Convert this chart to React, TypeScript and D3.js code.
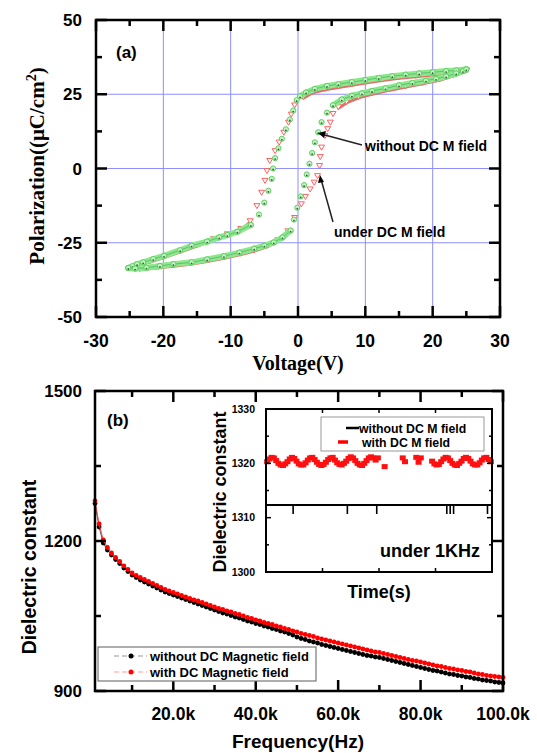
import React from 'react';
import * as d3 from 'd3';

const W = 537;
const H = 753;

// ---------- Panel (a) data ----------
const voltTicks = [-30, -20, -10, 0, 10, 20, 30];
const voltMinor = [-25, -15, -5, 5, 15, 25];
const polTicks = [-50, -25, 0, 25, 50];
const polMinor = [-37.5, -12.5, 12.5, 37.5];
const gridV = [-20, -10, 0, 10, 20];
const gridP = [-25, 0, 25];

const greenUpper: [number, number][] = [
  [25.0, 33.4], [23.5, 33.0], [22, 32.8], [20, 32.4], [18, 32.0], [16, 31.6], [14, 31.1], [12, 30.5],
  [10, 29.8], [8, 29.1], [6, 28.4], [4.3, 27.8], [2.5, 26.8], [1.2, 25.6], [0.3, 24.3], [-0.2, 23.0],
  [-0.7, 19.5], [-1.2, 16.5], [-1.8, 13.2], [-2.4, 10.0], [-2.9, 6.8], [-3.4, 3.5], [-3.7, 0.0],
  [-3.9, -3.5], [-4.4, -7.5], [-5.0, -11.5], [-5.8, -15.5], [-7.0, -19.0], [-9.0, -21.3],
  [-10.5, -22.4], [-11.7, -23.2], [-13.5, -24.6], [-15.8, -26.0], [-17.5, -27.5], [-19.9, -29.4],
  [-21.5, -30.5], [-23.0, -31.6], [-23.9, -32.2], [-24.6, -32.9], [-25.2, -33.5],
];
const greenLower: [number, number][] = [
  [-25.2, -33.5], [-24.2, -33.7], [-22.5, -33.4], [-20.5, -32.8], [-18.5, -32.2], [-15.8, -31.6],
  [-13.5, -30.6], [-11, -29.5], [-8.7, -28.3], [-6.5, -27.0], [-5, -26.0], [-3.6, -24.9], [-2.3, -23.2],
  [-1.1, -20.9], [-0.6, -17.2], [-0.1, -13.2], [0.4, -9.4], [0.9, -5.6], [1.3, -2.0], [1.7, 1.6],
  [2.1, 5.2], [2.5, 8.8], [3.0, 12.2], [3.5, 15.6], [4.3, 18.8], [5.2, 21.3], [6.5, 23.2], [8.0, 24.5],
  [9.5, 25.3], [11, 26.1], [13, 27.0], [15, 28.0], [17, 28.8], [19, 29.6], [20.5, 30.2], [22, 31.0],
  [23.5, 32.0], [24.5, 32.8], [25.0, 33.4],
];
const redUpper: [number, number][] = [
  [25.0, 33.2], [23.0, 32.6], [20, 32.0], [17.5, 31.4], [15, 30.9], [12.5, 30.1], [10, 29.3], [8, 28.5],
  [6, 27.8], [4, 27.0], [2.2, 26.0], [0.8, 24.2], [-0.5, 21.4], [-1.0, 18.3], [-1.4, 15.6], [-2.1, 12.2],
  [-2.8, 8.9], [-3.4, 6.0], [-4.2, 2.7], [-4.6, -0.7], [-4.9, -4.0], [-5.4, -8.0], [-6.1, -12.5],
  [-7.1, -17.6], [-8.5, -20.2], [-10.5, -22.0], [-12.5, -23.6], [-15, -25.6], [-17.5, -27.6],
  [-20, -29.6], [-22, -31.0], [-23.8, -32.3], [-25.0, -33.4],
];
const redLower: [number, number][] = [
  [-25.0, -33.4], [-23.5, -33.6], [-21, -33.0], [-18.5, -32.4], [-16, -31.7], [-13.5, -30.8],
  [-11, -29.7], [-8.5, -28.5], [-6.5, -27.3], [-4.5, -25.8], [-3, -24.0], [-1.5, -21.0], [-0.5, -16.5],
  [0.5, -11.9], [1.1, -9.4], [1.8, -6.9], [2.4, -4.6], [2.9, -2.4], [3.2, 1.0], [3.3, 4.0], [3.5, 7.2],
  [4.0, 11.1], [4.4, 13.4], [4.8, 15.6], [5.2, 18.5], [6.0, 20.8], [7.2, 22.6], [9, 24.3], [11, 25.5],
  [13.5, 26.8], [16, 27.9], [18.5, 29.0], [21, 30.2], [23, 31.6], [25.0, 33.2],
];

// ---------- Panel (b) data ----------
const freqK = [
  1, 2, 3, 4, 5, 6, 7, 8, 9, 10, 11, 12, 13, 14, 15, 16, 17, 18, 19, 20,
  21, 22, 23, 24, 25, 26, 27, 28, 29, 30, 31, 32, 33, 34, 35, 36, 37, 38, 39, 40,
  41, 42, 43, 44, 45, 46, 47, 48, 49, 50, 51, 52, 53, 54, 55, 56, 57, 58, 59, 60,
  61, 62, 63, 64, 65, 66, 67, 68, 69, 70, 71, 72, 73, 74, 75, 76, 77, 78, 79, 80,
  81, 82, 83, 84, 85, 86, 87, 88, 89, 90, 91, 92, 93, 94, 95, 96, 97, 98, 99, 100,
];
const withoutField = [
  1275, 1228, 1196, 1182, 1172, 1163, 1155, 1146, 1139, 1132,
  1127, 1122, 1118, 1114, 1110, 1106, 1102, 1098, 1095, 1092,
  1089, 1086, 1083, 1080, 1077, 1074, 1071, 1068, 1065, 1062,
  1059, 1056, 1054, 1051, 1048, 1046, 1043, 1040, 1038, 1035,
  1033, 1030, 1028, 1025, 1023, 1020, 1018, 1015, 1012, 1008,
  1005, 1003, 1000, 998, 996, 993, 991, 989, 987, 985,
  983, 981, 979, 977, 975, 973, 971, 970, 968, 967,
  965, 963, 961, 959, 957, 955, 953, 951, 949, 947,
  945, 943, 941, 940, 938, 936, 934, 933, 931, 930,
  928, 927, 925, 924, 922, 921, 920, 918, 917, 916,
];
const withField = [
  1280, 1234, 1202, 1187, 1176, 1167, 1159, 1150, 1143, 1136,
  1131, 1127, 1123, 1119, 1115, 1111, 1107, 1103, 1100, 1097,
  1094, 1091, 1088, 1085, 1082, 1080, 1077, 1074, 1071, 1068,
  1065, 1063, 1060, 1058, 1055, 1053, 1050, 1047, 1045, 1042,
  1040, 1037, 1035, 1033, 1030, 1028, 1025, 1023, 1020, 1018,
  1015, 1013, 1011, 1009, 1006, 1004, 1002, 1000, 998, 996,
  994, 992, 990, 988, 986, 984, 982, 980, 978, 977,
  975, 973, 971, 969, 967, 965, 963, 961, 960, 958,
  956, 954, 952, 950, 949, 947, 945, 944, 942, 941,
  939, 938, 936, 934, 933, 931, 930, 929, 928, 927,
];
const freqTicks = [20000, 40000, 60000, 80000, 100000];
const freqTickLabels = ['20.0k', '40.0k', '60.0k', '80.0k', '100.0k'];
const freqMinor = [10000, 30000, 50000, 70000, 90000];
const dielTicks = [900, 1200, 1500];
const dielMinor = [1050, 1350];

// ---------- Inset data ----------
const insetTime = [
  0, 1, 2, 3, 4, 5, 6, 7, 8, 9, 10, 11, 12, 13, 14, 15, 16, 17, 18, 19,
  20, 21, 22, 23, 24, 25, 26, 27, 28, 29, 30, 31, 32, 33, 34, 35, 36, 37, 38, 39,
  40, 41, 42, 43, 44, 45, 46, 47, 48, 49, 52, 60, 61, 66, 67, 68, 73,
  74, 75, 76, 77, 78, 79, 80, 81, 82, 83, 84, 85, 86, 87, 88, 89,
  90, 91, 92, 93, 94, 95, 96, 97, 98, 99,
];
const insetWithField = [
  1320.3, 1320.8, 1321.1, 1321.0, 1320.5, 1320.0, 1319.7, 1319.6, 1319.9, 1320.3,
  1320.8, 1321.1, 1320.9, 1320.4, 1319.9, 1319.7, 1319.7, 1320.1, 1320.6, 1321.0,
  1321.1, 1320.7, 1320.2, 1319.8, 1319.6, 1319.8, 1320.2, 1320.7, 1321.0, 1321.1,
  1320.6, 1320.1, 1319.8, 1319.7, 1320.0, 1320.4, 1320.9, 1321.2, 1321.0, 1320.5,
  1320.0, 1319.7, 1319.6, 1320.0, 1320.5, 1321.0, 1321.2, 1321.0, 1320.6, 1321.0, 1319.4, 1321.0, 1320.3,
  1321.1, 1320.2, 1321.0, 1320.4,
  1319.9, 1319.7, 1319.8, 1320.3, 1320.8, 1321.1, 1321.0, 1320.5, 1320.0, 1319.7, 1319.6, 1320.0,
  1320.4, 1320.9, 1321.1, 1320.9,
  1320.4, 1319.9, 1319.7, 1319.7, 1320.1, 1320.6, 1321.0, 1321.1, 1320.7, 1320.3,
];
const insetTicks = [1300, 1310, 1320, 1330];
const insetMinor = [1305, 1315, 1325];
const insetTimeTicks = [25, 50, 75];
const layerTicks = [12, 36, 49, 80, 81.5, 83, 98];

const SANS = 'Arial, "Liberation Sans", Helvetica, sans-serif';
const SERIF = '"Times New Roman", "Liberation Serif", serif';

export default function App() {
  // Panel (a)
  const xa = d3.scaleLinear().domain([-30, 30]).range([96, 500]);
  const ya = d3.scaleLinear().domain([-50, 50]).range([317, 20]);
  // Panel (b)
  const xb = d3.scaleLinear().domain([1000, 100000]).range([95, 503]);
  const yb = d3.scaleLinear().domain([900, 1500]).range([691, 391]);
  // Inset
  const xi = d3.scaleLinear().domain([0, 100]).range([266, 492]);
  const yi = d3.scaleLinear().domain([1300, 1330]).range([572, 409]);

  const bandSegs = (pts: [number, number][]) => {
    const segs: [number, number, number, number][] = [];
    for (let i = 0; i < pts.length - 1; i++) {
      const x1 = xa(pts[i][0]), y1 = ya(pts[i][1]);
      const x2 = xa(pts[i + 1][0]), y2 = ya(pts[i + 1][1]);
      if (Math.abs(y2 - y1) < Math.abs(x2 - x1) * 0.9) segs.push([x1, y1, x2, y2]);
    }
    return segs;
  };

  const redLoop = [...redUpper, ...redLower];
  const greenLoop = [...greenUpper, ...greenLower];

  const tri = (x: number, y: number) => `M${x - 3},${y - 2} L${x + 3},${y - 2} L${x},${y + 3} Z`;

  const lineB = (vals: number[]) =>
    d3.line<number>().x((_, i) => xb(freqK[i] * 1000)).y((v) => yb(v))(vals) || '';

  const frameA = { l: 96, r: 500, t: 20, b: 317 };
  const frameB = { l: 95, r: 503, t: 391, b: 691 };

  const majorLen = 11;
  const minorLen = 6;

  return (
    <svg width={W} height={H} style={{ position: 'absolute', left: 0, top: 0, background: '#fff' }}>
      <rect x={0} y={0} width={W} height={H} fill="#fff" />
      {/* ================= Panel (a) ================= */}
      {gridV.map((v) => (
        <line key={'gv' + v} x1={xa(v)} x2={xa(v)} y1={frameA.t} y2={frameA.b} stroke="#8f8fff" strokeWidth={1} />
      ))}
      {gridP.map((p) => (
        <line key={'gp' + p} x1={frameA.l} x2={frameA.r} y1={ya(p)} y2={ya(p)} stroke="#8f8fff" strokeWidth={1} />
      ))}
      {/* red loop */}
      {bandSegs(redLoop).map((s, i) => (
        <line key={'rb' + i} x1={s[0]} y1={s[1] + 1.5} x2={s[2]} y2={s[3] + 1.5} stroke="#e07070" strokeWidth={3} strokeLinecap="round" />
      ))}
      {redLoop.map((p, i) => (
        <path key={'rm' + i} d={tri(xa(p[0]), ya(p[1]))} fill="#fff" stroke="#ff6060" strokeWidth={1} />
      ))}
      {/* green loop */}
      {bandSegs(greenLoop).map((s, i) => (
        <line key={'gb' + i} x1={s[0]} y1={s[1]} x2={s[2]} y2={s[3]} stroke="#8aea8a" strokeWidth={6} strokeLinecap="round" />
      ))}
      {bandSegs(greenLoop).map((s, i) => (
        <line key={'gc' + i} x1={s[0]} y1={s[1]} x2={s[2]} y2={s[3]} stroke="#3c7a6a" strokeWidth={0.8} opacity={0.55} />
      ))}
      {greenLoop.map((p, i) => (
        <g key={'gm' + i}>
          <circle cx={xa(p[0])} cy={ya(p[1])} r={2.6} fill="#c6f2c6" stroke="#5fcf5f" strokeWidth={1} />
          <circle cx={xa(p[0])} cy={ya(p[1]) + 1} r={0.9} fill="#2f5f3f" />
        </g>
      ))}
      {/* frame a */}
      <rect x={frameA.l} y={frameA.t} width={frameA.r - frameA.l} height={frameA.b - frameA.t} fill="none" stroke="#000" strokeWidth={2.5} />
      {voltTicks.map((v) => (
        <g key={'vt' + v}>
          <line x1={xa(v)} x2={xa(v)} y1={frameA.b} y2={frameA.b - majorLen} stroke="#000" strokeWidth={2.5} />
          <line x1={xa(v)} x2={xa(v)} y1={frameA.t} y2={frameA.t + majorLen} stroke="#000" strokeWidth={2.5} />
          <text x={xa(v)} y={347} textAnchor="middle" fontFamily={SANS} fontWeight="bold" fontSize={17.5}>{v}</text>
        </g>
      ))}
      {voltMinor.map((v) => (
        <g key={'vm' + v}>
          <line x1={xa(v)} x2={xa(v)} y1={frameA.b} y2={frameA.b - minorLen} stroke="#000" strokeWidth={2.5} />
          <line x1={xa(v)} x2={xa(v)} y1={frameA.t} y2={frameA.t + minorLen} stroke="#000" strokeWidth={2.5} />
        </g>
      ))}
      {polTicks.map((p) => (
        <g key={'pt' + p}>
          <line x1={frameA.l} x2={frameA.l + majorLen} y1={ya(p)} y2={ya(p)} stroke="#000" strokeWidth={2.5} />
          <line x1={frameA.r} x2={frameA.r - majorLen} y1={ya(p)} y2={ya(p)} stroke="#000" strokeWidth={2.5} />
          <text x={82} y={ya(p) + 6} textAnchor="end" fontFamily={SANS} fontWeight="bold" fontSize={17}>{p}</text>
        </g>
      ))}
      {polMinor.map((p) => (
        <g key={'pm' + p}>
          <line x1={frameA.l} x2={frameA.l + minorLen} y1={ya(p)} y2={ya(p)} stroke="#000" strokeWidth={2.5} />
          <line x1={frameA.r} x2={frameA.r - minorLen} y1={ya(p)} y2={ya(p)} stroke="#000" strokeWidth={2.5} />
        </g>
      ))}
      <text x={116} y={58} fontFamily={SANS} fontWeight="bold" fontSize={17}>(a)</text>
      <text transform="translate(44,166) rotate(-90)" textAnchor="middle" fontFamily={SERIF} fontWeight="bold" fontSize={21}>
        Polarization((μC/cm<tspan dy={-8} fontSize={14}>2</tspan><tspan dy={8}>)</tspan>
      </text>
      <text x={298} y={370} textAnchor="middle" fontFamily={SERIF} fontWeight="bold" fontSize={20}>Voltage(V)</text>
      {/* annotations */}
      <line x1={362} y1={145} x2={323} y2={134.5} stroke="#222" strokeWidth={1.5} />
      <path d="M318,133 L326,131 L324,138 Z" fill="#000" />
      <text x={365} y={151} fontFamily={SANS} fontWeight="bold" fontSize={14}>without DC M field</text>
      <line x1={333} y1={222} x2={321.5} y2={181} stroke="#222" strokeWidth={1.5} />
      <path d="M320,175 L318,183 L324,182 Z" fill="#000" />
      <text x={334} y={237} fontFamily={SANS} fontWeight="bold" fontSize={14}>under DC M field</text>

      {/* ================= Panel (b) ================= */}
      <path d={lineB(withoutField)} fill="none" stroke="#555" strokeWidth={1} />
      {withoutField.map((v, i) => (
        <circle key={'bk' + i} cx={xb(freqK[i] * 1000)} cy={yb(v)} r={2.4} fill="#000" />
      ))}
      <path d={lineB(withField)} fill="none" stroke="#ff4040" strokeWidth={1} />
      {withField.map((v, i) => (
        <circle key={'rd' + i} cx={xb(freqK[i] * 1000)} cy={yb(v)} r={2.4} fill="#ff0000" />
      ))}
      <rect x={frameB.l} y={frameB.t} width={frameB.r - frameB.l} height={frameB.b - frameB.t} fill="none" stroke="#000" strokeWidth={2.5} />
      {freqTicks.map((f, i) => (
        <g key={'ft' + f}>
          <line x1={xb(f)} x2={xb(f)} y1={frameB.b} y2={frameB.b - majorLen} stroke="#000" strokeWidth={2.5} />
          <line x1={xb(f)} x2={xb(f)} y1={frameB.t} y2={frameB.t + majorLen} stroke="#000" strokeWidth={2.5} />
          <text x={xb(f)} y={720} textAnchor="middle" fontFamily={SANS} fontWeight="bold" fontSize={17.5}>{freqTickLabels[i]}</text>
        </g>
      ))}
      {freqMinor.map((f) => (
        <g key={'fm' + f}>
          <line x1={xb(f)} x2={xb(f)} y1={frameB.b} y2={frameB.b - minorLen} stroke="#000" strokeWidth={2.5} />
          <line x1={xb(f)} x2={xb(f)} y1={frameB.t} y2={frameB.t + minorLen} stroke="#000" strokeWidth={2.5} />
        </g>
      ))}
      {dielTicks.map((d) => (
        <g key={'dt' + d}>
          <line x1={frameB.l} x2={frameB.l + majorLen} y1={yb(d)} y2={yb(d)} stroke="#000" strokeWidth={2.5} />
          <line x1={frameB.r} x2={frameB.r - majorLen} y1={yb(d)} y2={yb(d)} stroke="#000" strokeWidth={2.5} />
          <text x={82} y={yb(d) + 6} textAnchor="end" fontFamily={SANS} fontWeight="bold" fontSize={17}>{d}</text>
        </g>
      ))}
      {dielMinor.map((d) => (
        <g key={'dm' + d}>
          <line x1={frameB.l} x2={frameB.l + minorLen} y1={yb(d)} y2={yb(d)} stroke="#000" strokeWidth={2.5} />
          <line x1={frameB.r} x2={frameB.r - minorLen} y1={yb(d)} y2={yb(d)} stroke="#000" strokeWidth={2.5} />
        </g>
      ))}
      <text x={107} y={426} fontFamily={SANS} fontWeight="bold" fontSize={17}>(b)</text>
      <text transform="translate(36,567) rotate(-90)" textAnchor="middle" fontFamily={SANS} fontWeight="bold" fontSize={19.5}>Dielectric constant</text>
      <text x={298} y={748} textAnchor="middle" fontFamily={SANS} fontWeight="bold" fontSize={19}>Frequency(Hz)</text>

      {/* legend b */}
      <rect x={98} y={647} width={218} height={34} fill="#fff" stroke="#777" strokeWidth={1.2} />
      <line x1={114} x2={147} y1={656} y2={656} stroke="#999" strokeWidth={1} strokeDasharray="5,3" />
      <circle cx={131} cy={656} r={2.5} fill="#000" />
      <text x={150} y={660.5} fontFamily={SANS} fontWeight="bold" fontSize={13}>without DC Magnetic field</text>
      <line x1={114} x2={147} y1={672} y2={672} stroke="#f9a0a0" strokeWidth={1} strokeDasharray="5,3" />
      <circle cx={131} cy={672} r={2.5} fill="#ff0000" />
      <text x={150} y={676.5} fontFamily={SANS} fontWeight="bold" fontSize={13}>with DC Magnetic field</text>

      {/* ================= Inset ================= */}
      <rect x={266} y={409} width={226} height={163} fill="#fff" />
      {insetTime.map((t, i) => (
        <rect key={'in' + i} x={xi(t + 0.5) - 3} y={yi(insetWithField[i]) - 2.5} width={6} height={5} fill="#ff1010" />
      ))}
      <line x1={266} x2={492} y1={505} y2={505} stroke="#000" strokeWidth={2} />
      {layerTicks.map((t) => (
        <line key={'lt' + t} x1={xi(t)} x2={xi(t)} y1={505} y2={514} stroke="#000" strokeWidth={1.6} />
      ))}
      <rect x={266} y={409} width={226} height={163} fill="none" stroke="#000" strokeWidth={2} />
      {insetTicks.map((d) => (
        <g key={'it' + d}>
          <line x1={266} x2={271} y1={yi(d)} y2={yi(d)} stroke="#000" strokeWidth={1.5} />
          <line x1={492} x2={487} y1={yi(d)} y2={yi(d)} stroke="#000" strokeWidth={1.5} />
          <text x={255} y={yi(d) + 3.5} textAnchor="end" fontFamily={SANS} fontWeight="bold" fontSize={10.5}>{d}</text>
        </g>
      ))}
      {insetMinor.map((d) => (
        <g key={'im' + d}>
          <line x1={266} x2={269} y1={yi(d)} y2={yi(d)} stroke="#000" strokeWidth={1.5} />
          <line x1={492} x2={489} y1={yi(d)} y2={yi(d)} stroke="#000" strokeWidth={1.5} />
        </g>
      ))}
      {insetTimeTicks.map((t) => (
        <g key={'itt' + t}>
          <line x1={xi(t)} x2={xi(t)} y1={409} y2={413} stroke="#000" strokeWidth={1.5} />
          <line x1={xi(t)} x2={xi(t)} y1={572} y2={568} stroke="#000" strokeWidth={1.5} />
        </g>
      ))}
      <rect x={321} y={417} width={163} height={34} fill="#fff" stroke="#999" strokeWidth={1} />
      <line x1={346} x2={359} y1={428} y2={428} stroke="#000" strokeWidth={2.5} />
      <text x={359} y={432.5} fontFamily={SANS} fontWeight="bold" fontSize={12.3}>without DC M field</text>
      <line x1={338} x2={348} y1={442} y2={442} stroke="#ff0000" strokeWidth={3.5} />
      <text x={362} y={446.5} fontFamily={SANS} fontWeight="bold" fontSize={12.3}>with DC M field</text>
      <text x={380} y={557} fontFamily={SANS} fontWeight="bold" fontSize={18}>under 1KHz</text>
      <text transform="translate(226,492) rotate(-90)" textAnchor="middle" fontFamily={SANS} fontWeight="bold" fontSize={18}>Dielectric constant</text>
      <text x={379} y={598} textAnchor="middle" fontFamily={SANS} fontWeight="bold" fontSize={18}>Time(s)</text>
    </svg>
  );
}
